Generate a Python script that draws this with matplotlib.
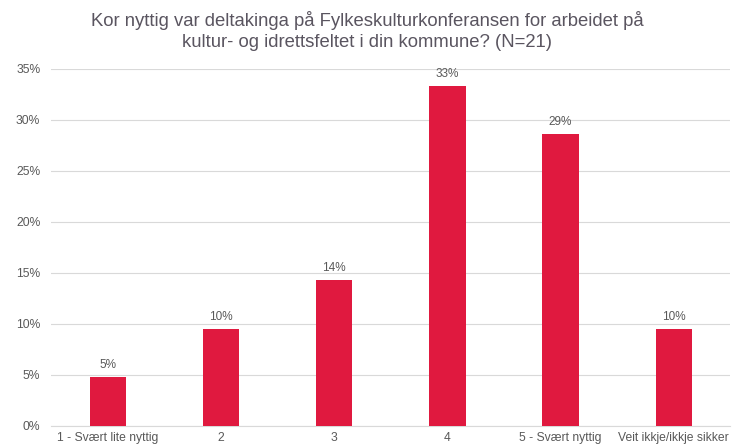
import numpy as np
import matplotlib.pyplot as plt

plt.rcParams['font.family'] = ['Liberation Sans', 'DejaVu Sans']

categories = ['1 - Svært lite nyttig', '2', '3', '4', '5 - Svært nyttig', 'Veit ikkje/ikkje sikker']
counts = [1, 2, 3, 7, 6, 2]
n_total = 21
shares = [c / n_total * 100 for c in counts]
y_ticks = [0, 5, 10, 15, 20, 25, 30, 35]

bar_color = '#E0193F'
text_color = '#595959'
title_color = '#5A5560'

fig = plt.figure(figsize=(7.34, 4.47), dpi=100)
ax = fig.add_axes([0.070, 0.047, 0.925, 0.799])

x = np.arange(len(categories))
ax.bar(x, shares, width=0.32, color=bar_color, zorder=3)

for xi, v in zip(x, shares):
    ax.text(xi, v + 0.6, f'{v:.0f}%', ha='center', va='bottom', fontsize=8.5, color=text_color)

ax.set_xlim(-0.5, len(categories) - 0.5)
ax.set_ylim(0, 35)
ax.set_yticks(y_ticks)
ax.set_yticklabels([f'{t}%' for t in y_ticks])
ax.set_xticks(x)
ax.set_xticklabels(categories)
ax.tick_params(axis='both', length=0, labelsize=8.7, labelcolor=text_color)
ax.tick_params(axis='y', pad=8)
ax.tick_params(axis='x', pad=4)
ax.grid(axis='y', color='#D9D9D9', linewidth=0.8, zorder=0)
for side in ['top', 'right', 'left']:
    ax.spines[side].set_visible(False)
ax.spines['bottom'].set_color('#D9D9D9')

fig.suptitle('Kor nyttig var deltakinga på Fylkeskulturkonferansen for arbeidet på\n'
             'kultur- og idrettsfeltet i din kommune? (N=21)',
             y=0.975, fontsize=13.3, color=title_color, linespacing=1.3)

fig.savefig('out.png', dpi=100)
